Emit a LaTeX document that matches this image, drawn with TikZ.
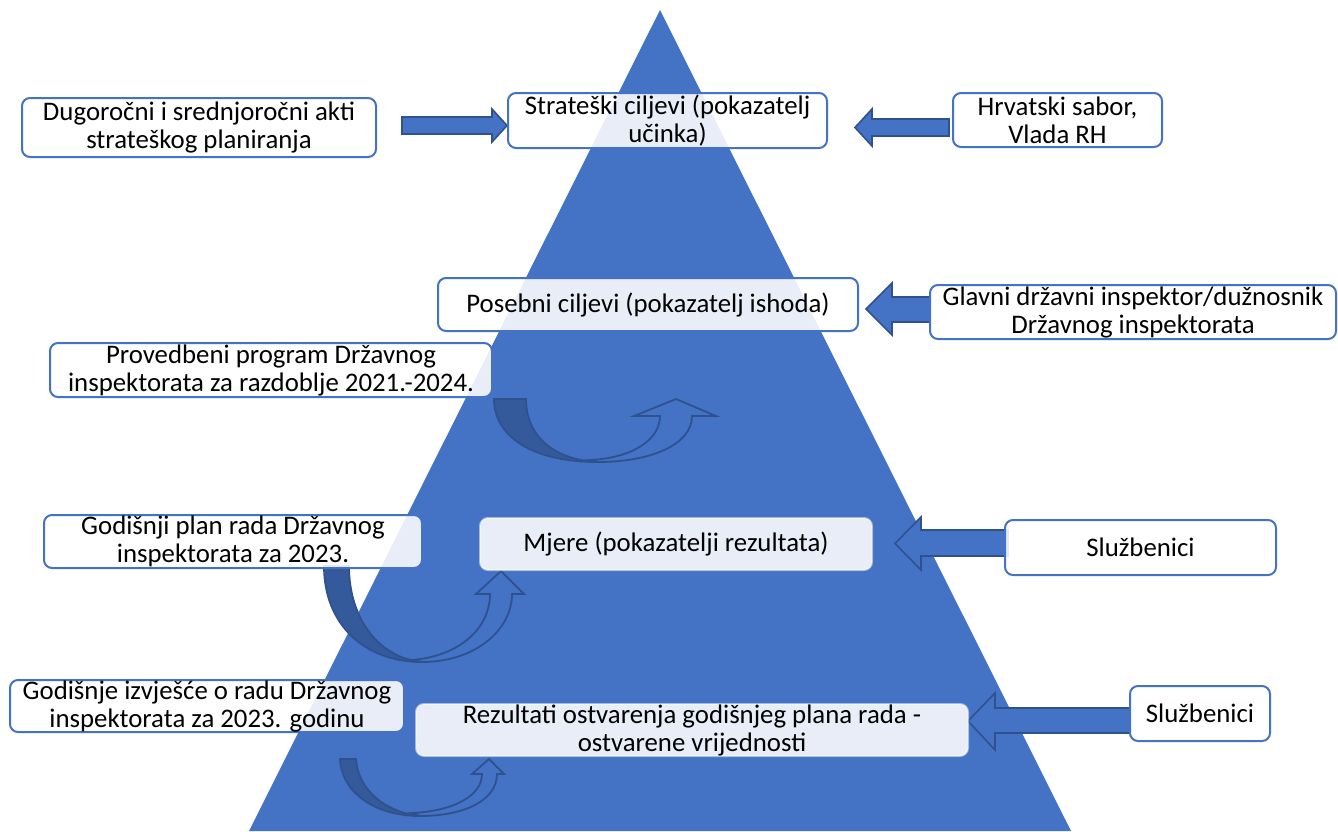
\documentclass[tikz,border=0pt]{standalone}
\usepackage{fontspec}
\setmainfont{Carlito}
\definecolor{triblue}{RGB}{68,114,196}
\definecolor{edgeblue}{RGB}{47,82,143}
\definecolor{bandblue}{RGB}{53,90,156}
\begin{document}
\begin{tikzpicture}[x=0.5pt,y=-0.5pt,
  font=\fontsize{13.4}{14}\selectfont,
  box/.style={draw=triblue, line width=1pt, fill=white, fill opacity=0.88, text opacity=1,
    rounded corners=4pt, align=center, inner sep=0pt, text=black},
  innerbox/.style={box, draw=white, draw opacity=0.5},
  blockarrow/.style={fill=triblue, draw=edgeblue, line width=0.8pt, line join=miter},
  curvehead/.style={fill=triblue, draw=edgeblue, line width=0.9pt, line join=miter},
  curveband/.style={fill=bandblue, draw=edgeblue, line width=0.9pt}]
\useasboundingbox (0,0) rectangle (1338,831);
\fill[white] (0,0) rectangle (1338,831);
% pyramid
\fill[triblue] (660,10) -- (1071,831) -- (249,831) -- cycle;

% curved arrows
\draw[curvehead] (598,462) .. controls (650,462) and (692,445) .. (692,416) -- (716,416) -- (676,399) -- (634,416) -- (660,416) .. controls (660,440) and (632,458) .. (590,460) -- cycle;
\draw[curveband] (494,399) -- (526,399) .. controls (526,438) and (556,460) .. (598,462) .. controls (530,462) and (494,435) .. (494,399) -- cycle;

\draw[curvehead] (422,662) .. controls (475,662) and (512,630) .. (512,594) -- (524,594) -- (501,571) -- (476,594) -- (490,594) .. controls (490,628) and (460,656) .. (412,660) -- cycle;
\draw[curveband] (324,566) -- (349,566) .. controls (349,620) and (380,658) .. (422,662) .. controls (365,662) and (324,625) .. (324,566) -- cycle;

\draw[curvehead] (420,816) .. controls (465,816) and (497,800) .. (497,774) -- (504,774) -- (489,759) -- (472,774) -- (482,774) .. controls (482,795) and (455,811) .. (412,813) -- cycle;
\draw[curveband] (340,759) -- (356,759) .. controls (358,790) and (385,812) .. (420,816) .. controls (378,816) and (342,795) .. (340,759) -- cycle;

% block arrows
\draw[blockarrow] (402,117) -- (492,117) -- (492,109) -- (507,125.5) -- (492,142) -- (492,134) -- (402,134) -- cycle;
\draw[blockarrow] (949,119) -- (872,119) -- (872,109) -- (855,127.5) -- (872,146) -- (872,136) -- (949,136) -- cycle;
\draw[blockarrow] (930,297) -- (892,297) -- (892,283) -- (866,309) -- (892,335) -- (892,322) -- (930,322) -- cycle;
\draw[blockarrow] (1008,530) -- (921,530) -- (921,517) -- (895,543.5) -- (921,570) -- (921,556) -- (1008,556) -- cycle;
\draw[blockarrow] (1130,708) -- (995,708) -- (995,693) -- (968,721) -- (995,750) -- (995,733) -- (1130,733) -- cycle;

% boxes
\node[box, minimum width=177pt, minimum height=29.5pt] (b1) at (199,127.5) {Dugoročni i srednjoročni akti\\strateškog planiranja};
\node[box, minimum width=159.5pt, minimum height=27.5pt] (b2) at (667.5,120.5) {Strateški ciljevi (pokazatelj\\učinka)};
\node[box, minimum width=104.5pt, minimum height=27pt] (b3) at (1057.5,120) {Hrvatski sabor,\\Vlada RH};
\node[box, minimum width=210pt, minimum height=26.5pt] (b4) at (648,304.5) {Posebni ciljevi (pokazatelj ishoda)};
\node[box, minimum width=203pt, minimum height=27pt] (b5) at (1133,312) {Glavni državni inspektor/dužnosnik\\Državnog inspektorata};
\node[box, minimum width=221pt, minimum height=27pt] (b6) at (271,370) {Provedbeni program Državnog\\inspektorata za razdoblje 2021.-2024.};
\node[box, minimum width=189pt, minimum height=26.5pt] (b7) at (233,541.5) {Godišnji plan rada Državnog\\inspektorata za 2023.};
\node[innerbox, minimum width=196pt, minimum height=26pt] (b8) at (676,544) {Mjere (pokazatelji rezultata)};
\node[box, minimum width=135.5pt, minimum height=27.5pt] (b9) at (1140.5,547.5) {Službenici};
\node[box, minimum width=197pt, minimum height=26pt] (b10) at (207,706) {Godišnje izvješće o radu Državnog\\inspektorata za 2023. godinu};
\node[innerbox, minimum width=276pt, minimum height=26pt] (b11) at (692,730) {Rezultati ostvarenja godišnjeg plana rada -\\ostvarene vrijednosti};
\node[box, minimum width=70pt, minimum height=27.5pt] (b12) at (1200,713.5) {Službenici};
\end{tikzpicture}
\end{document}
